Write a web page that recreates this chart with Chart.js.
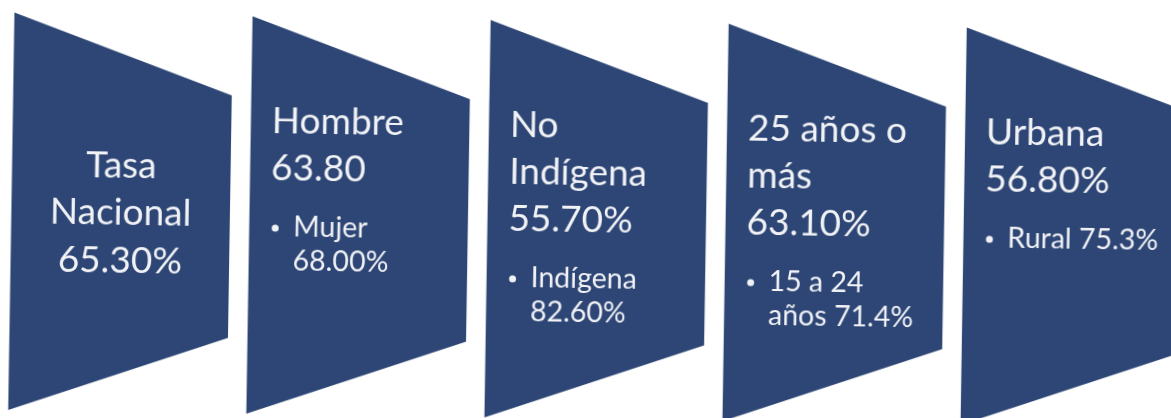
<!DOCTYPE html>
<html>
<head>
<meta charset="utf-8">
<script src="https://cdn.jsdelivr.net/npm/chart.js@4.4.0/dist/chart.umd.min.js"></script>
<style>
  html, body { margin: 0; padding: 0; background: #fff; overflow: hidden; }
  #wrap { width: 1194px; height: 420px; transform: rotate(0.9deg); transform-origin: 585px 209px; }
</style>
</head>
<body>
<div id="wrap"><canvas id="chart" width="1194" height="420"></canvas></div>
<script>
const categories = [['Tasa', 'Nacional'], ['Hombre'], ['No', 'Indígena'], ['25 años o', 'más'], ['Urbana']];
const rates = [65.3, 63.8, 55.7, 63.1, 56.8];
const rateLabels = ['65.30%', '63.80', '55.70%', '63.10%', '56.80%'];
const subgroups = [null, 'Mujer', 'Indígena', '15 a 24 años', 'Rural'];
const subRates = [null, 68.0, 82.6, 71.4, 75.3];
const subRateLabels = [null, '68.00%', '82.60%', '71.4%', '75.3%'];

// greedy word wrap for the bullet text
function wrap(ctx, text, maxWidth) {
  const words = text.split(' ');
  const lines = [];
  let line = '';
  words.forEach(w => {
    const test = line ? line + ' ' + w : w;
    if (line && ctx.measureText(test).width > maxWidth) {
      lines.push(line);
      line = w;
    } else {
      line = test;
    }
  });
  if (line) lines.push(line);
  return lines;
}

// draws the panels over each (invisible) bar slot
const panelPlugin = {
  id: 'panels',
  afterDatasetsDraw(chart) {
    const ctx = chart.ctx;
    const area = chart.chartArea;
    const top = area.top, bottom = area.bottom, h = bottom - top;
    chart.getDatasetMeta(0).data.forEach((bar, i) => {
      const left = bar.x - bar.width / 2;
      const right = bar.x + bar.width / 2;
      ctx.save();
      ctx.fillStyle = '#2d4675';
      ctx.beginPath();
      ctx.moveTo(left, top);
      ctx.lineTo(right, top + h * 0.2);
      ctx.lineTo(right, bottom - h * 0.19);
      ctx.lineTo(left, bottom);
      ctx.closePath();
      ctx.fill();

      ctx.fillStyle = '#f1f2f6';
      ctx.textBaseline = 'alphabetic';
      ctx.font = '37px Lato';
      const mainLines = categories[i].concat(rateLabels[i]);
      if (!subgroups[i]) {
        ctx.textAlign = 'center';
        const mid = (top + bottom) / 2;
        const y0 = mid + 12 - (mainLines.length - 1) / 2 * 47.5;
        mainLines.forEach((t, k) => ctx.fillText(t, bar.x, y0 + k * 47.5));
      } else {
        ctx.textAlign = 'left';
        const tx = left + 21;
        let y = top + h * 0.2 + 36.5;
        mainLines.forEach(t => { ctx.fillText(t, tx, y); y += 47; });
        y += 56.5 - 47;
        ctx.font = '28.5px Lato';
        const subLines = wrap(ctx, subgroups[i] + ' ' + subRateLabels[i], 153);
        ctx.beginPath();
        ctx.arc(tx + 5, y - 8, 3.5, 0, Math.PI * 2);
        ctx.fill();
        subLines.forEach(t => { ctx.fillText(t, tx + 23, y); y += 34; });
      }
      ctx.restore();
    });
  }
};

new Chart(document.getElementById('chart'), {
  type: 'bar',
  data: {
    labels: categories,
    datasets: [{
      data: rates,
      backgroundColor: 'rgba(0,0,0,0)',
      borderWidth: 0,
      categoryPercentage: 1,
      barPercentage: 0.918
    }]
  },
  options: {
    responsive: false,
    animation: false,
    layout: { padding: { left: 1.7, right: 1.8, top: 21.5, bottom: 1 } },
    plugins: { legend: { display: false }, tooltip: { enabled: false } },
    scales: {
      x: { display: false },
      y: { display: false, min: 0, max: 100 }
    }
  },
  plugins: [panelPlugin]
});
</script>
</body>
</html>
